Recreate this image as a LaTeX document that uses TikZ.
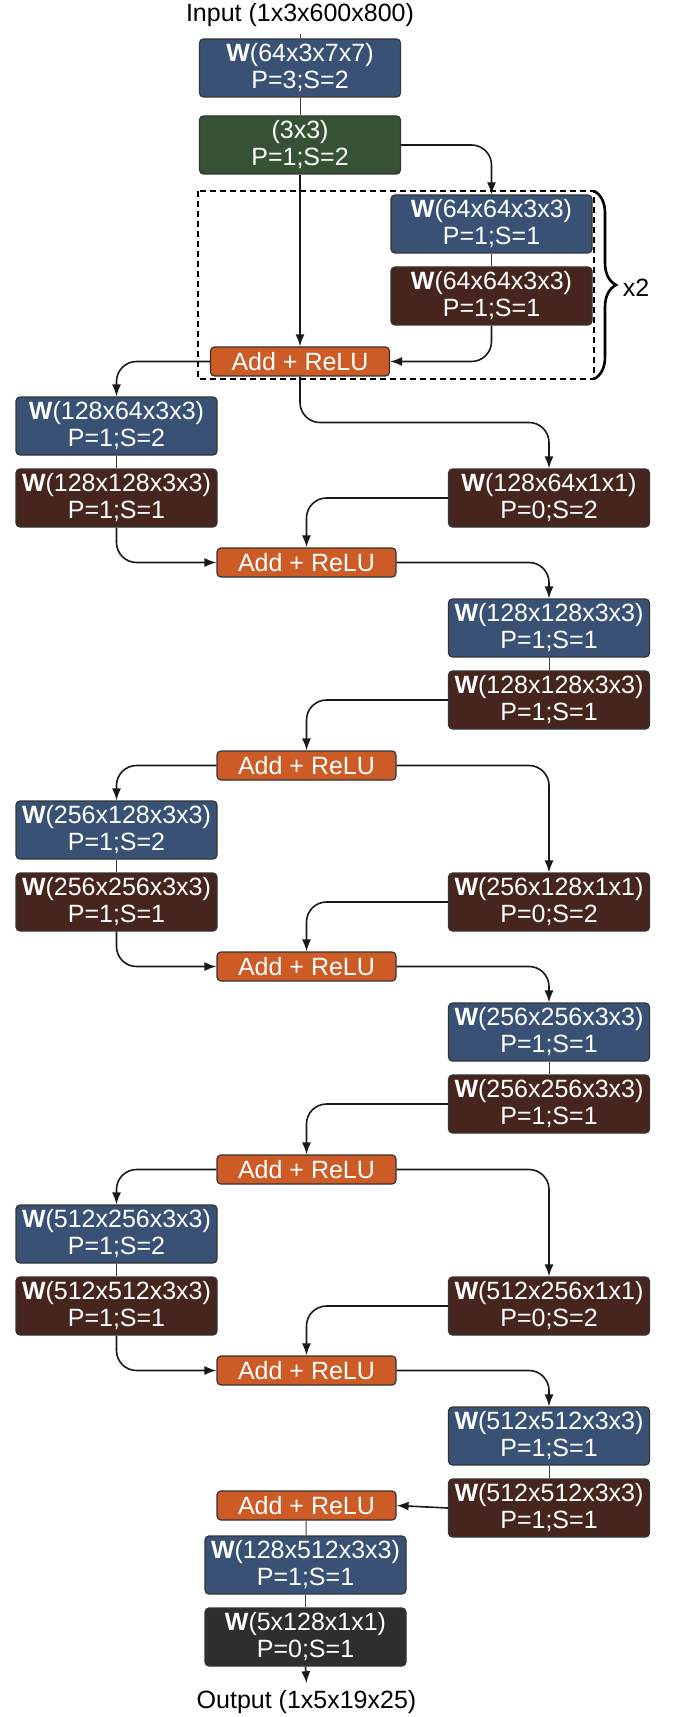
\documentclass[tikz,border=0pt]{standalone}
\usepackage{fontspec}
\setmainfont{Liberation Sans}
\usetikzlibrary{arrows.meta,decorations.pathreplacing,calc}

\definecolor{wblue}{HTML}{385174}
\definecolor{wbrown}{HTML}{46251F}
\definecolor{wgreen}{HTML}{365133}
\definecolor{wadd}{HTML}{CD5B26}
\definecolor{wdark}{HTML}{2E2E2E}

\tikzset{
  lbl/.style={font=\fontsize{12.5}{13.5}\selectfont},
  layer/.style={lbl, draw=black!80, line width=0.6pt, rounded corners=2pt, text=white, align=center,
    minimum width=100.5pt, minimum height=29pt, inner sep=0pt},
  addbox/.style={layer, fill=wadd, minimum width=89.5pt, minimum height=14.5pt},
  link/.style={draw=black!75, line width=0.5pt},
  flow/.style={draw=black!90, line width=0.8pt, rounded corners=10pt, -{Latex[length=6pt,width=4.5pt]}},
}
\newcommand{\wt}[2]{\textbf{W}(#1)\\#2}

\begin{document}
\begin{tikzpicture}[x=0.5pt,y=-0.5pt]
\useasboundingbox (0,0) rectangle (676,1717);

\node[lbl] (in) at (300,15) {Input (1x3x600x800)};
\node[layer, fill=wblue] (c1) at (300,68) {\wt{64x3x7x7}{P=3;S=2}};
\node[layer, fill=wgreen] (pool) at (300,145) {(3x3)\\P=1;S=2};
\node[layer, fill=wblue] (b1) at (491.5,224) {\wt{64x64x3x3}{P=1;S=1}};
\node[layer, fill=wbrown] (b2) at (491.5,296) {\wt{64x64x3x3}{P=1;S=1}};
\node[addbox] (a0) at (300,361.5) {Add + ReLU};
\node[addbox] (a1) at (306.5,765.5) {Add + ReLU};
\node[addbox] (a2) at (306.5,1169.5) {Add + ReLU};
\node[addbox] (a3) at (306.5,1505.5) {Add + ReLU};

\draw[dashed, dash pattern=on 3pt off 2pt, line width=0.8pt] (198,191) rectangle (594,379);
\draw[decorate, decoration={brace,amplitude=11pt}, line width=1.3pt] (594,191) -- (594,379);
\node[lbl] (rep) at (636,288) {x2};

\draw[link] (in) -- (c1);
\draw[link] (c1) -- (pool);
\draw[flow] (pool.south) -- (a0.north);
\draw[flow] (pool.east) -| (b1.north);
\draw[link] (b1) -- (b2);
\draw[flow] (b2.south) |- (a0.east);

\foreach \i/\nout/\nin/\y in {1/128/64/361.5, 2/256/128/765.5, 3/512/256/1169.5}{
  \pgfmathtruncatemacro\j{\i-1}
  \node[layer, fill=wblue] (lb\i) at (116.5,{\y+64.5}) {\wt{\nout x\nin x3x3}{P=1;S=2}};
  \node[layer, fill=wbrown] (lr\i) at (116.5,{\y+136.5}) {\wt{\nout x\nout x3x3}{P=1;S=1}};
  \node[layer, fill=wbrown] (rd\i) at (549,{\y+136.5}) {\wt{\nout x\nin x1x1}{P=0;S=2}};
  \node[addbox] (am\i) at (306.5,{\y+201}) {Add + ReLU};
  \node[layer, fill=wblue] (rb\i) at (549,{\y+266.5}) {\wt{\nout x\nout x3x3}{P=1;S=1}};
  \node[layer, fill=wbrown] (rr\i) at (549,{\y+338.5}) {\wt{\nout x\nout x3x3}{P=1;S=1}};
  \draw[flow] (a\j.west) -| (lb\i.north);
  \draw[link] (lb\i) -- (lr\i);
  \draw[flow] (lr\i.south) |- (am\i.west);
  \draw[flow] (rd\i.west) -| (am\i.north);
  \draw[flow] (am\i.east) -| (rb\i.north);
  \draw[link] (rb\i) -- (rr\i);
}

\draw[flow] (a0.south) |- ($(a0.south)!0.5!(rd1.north)$) -| (rd1.north);
\draw[flow] (a1.east) -| (rd2.north);
\draw[flow] (a2.east) -| (rd3.north);
\draw[flow] (rr1.west) -| (a1.north);
\draw[flow] (rr2.west) -| (a2.north);
\draw[flow] (rr3.west) -- (a3.east);

\node[layer, fill=wblue] (f1) at (305.5,1565) {\wt{128x512x3x3}{P=1;S=1}};
\node[layer, fill=wdark] (f2) at (305.5,1637) {\wt{5x128x1x1}{P=0;S=1}};
\node[lbl] (out) at (306.5,1702) {Output (1x5x19x25)};
\draw[link] (a3) -- (f1);
\draw[link] (f1) -- (f2);
\draw[flow] (f2.south) -- (out.north);
\end{tikzpicture}
\end{document}
